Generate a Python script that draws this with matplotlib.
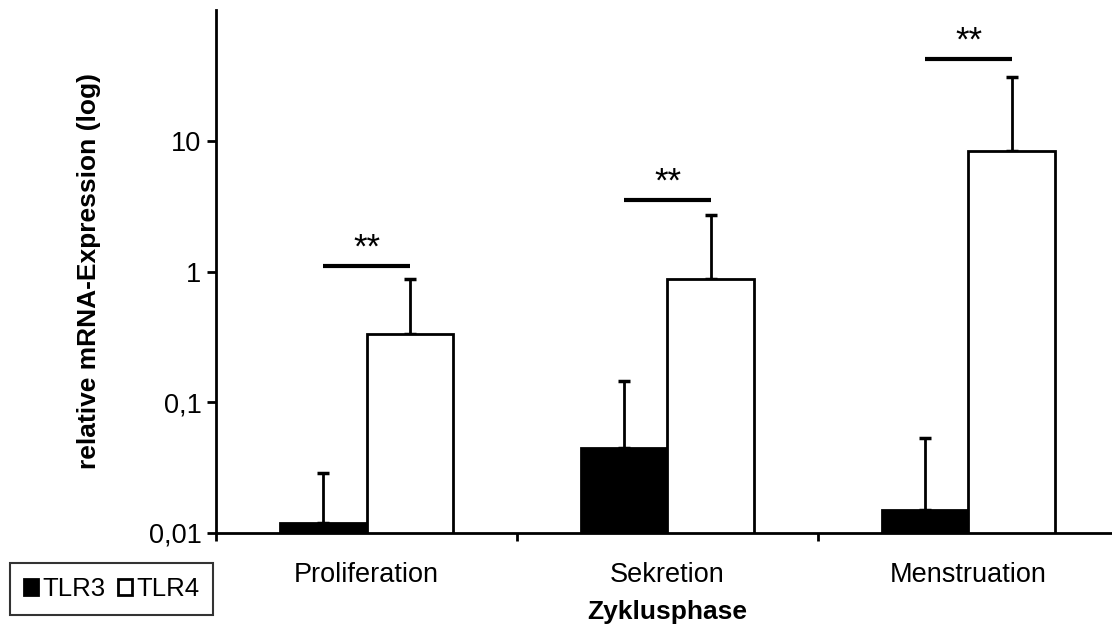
import numpy as np
import matplotlib
matplotlib.use("Agg")
import matplotlib.pyplot as plt
from matplotlib.ticker import FixedLocator, FuncFormatter, NullLocator

plt.rcParams['font.family'] = ['Liberation Sans', 'DejaVu Sans']

# relative mRNA expression per cycle phase (means and upper error limits)
phases = ["Proliferation", "Sekretion", "Menstruation"]
tlr3_mean = [0.012, 0.045, 0.015]
tlr3_upper = [0.029, 0.145, 0.053]
tlr4_mean = [0.33, 0.88, 8.4]
tlr4_upper = [0.88, 2.7, 31.0]
sig_level = [1.1, 3.5, 42.0]
sig_label = ["**", "**", "**"]
y_ticks = [0.01, 0.1, 1, 10]


def comma_fmt(v, pos):
    s = f"{v:g}"
    return s.replace(".", ",")


fig = plt.figure(figsize=(11.12, 6.28), dpi=100)
ax = fig.add_axes([216 / 1112, 95 / 628, 903 / 1112, 523 / 628])
ax.set_yscale("log")

x = np.arange(len(phases))
w = 0.286

ax.bar(x - w / 2, tlr3_mean, w, color="black", edgecolor="black",
       linewidth=2, label="TLR3", zorder=2)
ax.bar(x + w / 2, tlr4_mean, w, color="white", edgecolor="black",
       linewidth=2, label="TLR4", zorder=2)

err3 = np.array(tlr3_upper) - np.array(tlr3_mean)
err4 = np.array(tlr4_upper) - np.array(tlr4_mean)
ax.errorbar(x - w / 2, tlr3_mean, yerr=[np.zeros(3), err3], fmt="none",
            ecolor="black", elinewidth=2, capsize=4.5, capthick=2.5, zorder=1)
ax.errorbar(x + w / 2, tlr4_mean, yerr=[np.zeros(3), err4], fmt="none",
            ecolor="black", elinewidth=2, capsize=4.5, capthick=2.5, zorder=1)

# significance brackets
for xi, lvl, lab in zip(x, sig_level, sig_label):
    ax.plot([xi - w / 2, xi + w / 2], [lvl, lvl], color="black", lw=3,
            solid_capstyle="butt")
    ax.annotate(lab, (xi, lvl), xytext=(0, 6), textcoords="offset points",
                ha="center", va="baseline", fontsize=25)

ax.set_xlim(-0.5, 2.5)
ax.set_ylim(0.01, 100)

ax.yaxis.set_major_locator(FixedLocator(y_ticks))
ax.yaxis.set_minor_locator(NullLocator())
ax.yaxis.set_major_formatter(FuncFormatter(comma_fmt))

# category boundaries carry the ticks, names sit in between
ax.set_xticks([-0.5, 0.5, 1.5, 2.5])
ax.set_xticklabels([])
ax.set_xticks(x, minor=True)
ax.set_xticklabels(phases, minor=True, fontsize=19.5)
ax.tick_params(axis="x", which="minor", length=0, pad=21)
ax.tick_params(axis="x", which="major", length=5.5, width=2, direction="out")
ax.tick_params(axis="y", length=6.5, width=2, direction="out", labelsize=19.5,
               pad=4)

for s in ["top", "right"]:
    ax.spines[s].set_visible(False)
ax.spines["left"].set_linewidth(2)
ax.spines["bottom"].set_linewidth(2)

fig.text(89 / 1112, 1 - 271 / 628, "relative mRNA-Expression (log)",
         fontsize=19, fontweight="bold", rotation=90, ha="center", va="center")
fig.text(667 / 1112, 1 - 612 / 628, "Zyklusphase", fontsize=19,
         fontweight="bold", ha="center", va="center")

leg = fig.legend(loc="upper left", bbox_to_anchor=(10 / 1112, 1 - 563 / 628),
                 ncol=2, fontsize=18.5, frameon=True, fancybox=False,
                 edgecolor="black", handlelength=0.55, handleheight=0.55,
                 handletextpad=0.15, columnspacing=0.5, borderpad=0.55,
                 borderaxespad=0)
leg.get_frame().set_linewidth(1.5)

fig.savefig("out.png", dpi=100)
